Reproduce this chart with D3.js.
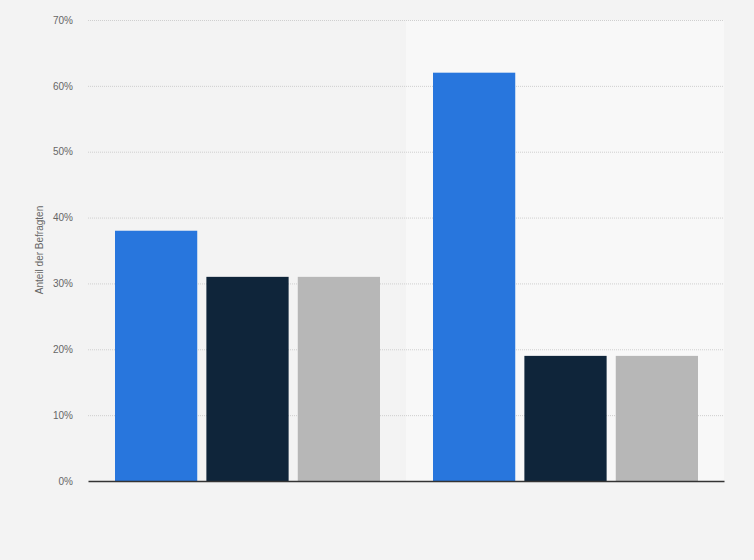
<!DOCTYPE html>
<html>
<head>
<meta charset="utf-8">
<script src="https://cdn.jsdelivr.net/npm/d3@7"></script>
<style>
  body { margin: 0; background: #f3f3f3; }
  .tick text { font-family: "Liberation Sans", Arial, sans-serif; font-size: 10px; fill: #666; }
  .axisText { font-family: "Liberation Sans", Arial, sans-serif; font-size: 10px; fill: #666; }
</style>
</head>
<body>
<div id="chart"></div>
<script>
// Chart data
var categories = ["Gruppe 1", "Gruppe 2"];
var seriesNames = ["Antwort A", "Antwort B", "Antwort C"];
var seriesA = [38, 62];
var seriesB = [31, 19];
var seriesC = [31, 19];
var yTicks = [0, 10, 20, 30, 40, 50, 60, 70];

var colors = ["#2876dd", "#0f253a", "#b7b7b7"];

var svgWidth = 754;
var svgHeight = 560;

var margin = { top: 20, right: 30, bottom: 79, left: 88 };
var width = svgWidth - margin.left - margin.right;
var height = svgHeight - margin.top - margin.bottom;

var svg = d3.select("#chart")
  .append("svg")
  .attr("width", svgWidth)
  .attr("height", svgHeight);

svg.append("rect")
  .attr("width", svgWidth)
  .attr("height", svgHeight)
  .attr("fill", "#f3f3f3");

var chartGroup = svg.append("g")
  .attr("transform", `translate(${margin.left}, ${margin.top})`);

// build rows for each category
var data = categories.map((c, i) => ({
  category: c,
  values: [seriesA[i], seriesB[i], seriesC[i]]
}));

var x0 = d3.scaleBand()
  .domain(categories)
  .range([0, width])
  .paddingInner(0)
  .paddingOuter(0);

var x1 = d3.scaleBand()
  .domain(seriesNames)
  .range([27, x0.bandwidth() - 26])
  .paddingInner(0.1);

var y = d3.scaleLinear()
  .domain([0, 70])
  .range([height, 0]);

// lighter band behind the second group
chartGroup.append("rect")
  .attr("x", x0(categories[1]))
  .attr("y", 0)
  .attr("width", x0.bandwidth())
  .attr("height", height)
  .attr("fill", "#f8f8f8");

// gridlines + tick labels
var leftAxis = d3.axisLeft(y)
  .tickValues(yTicks)
  .tickSize(-width)
  .tickPadding(15)
  .tickFormat(d => d + "%");

var yAxisG = chartGroup.append("g").call(leftAxis);
yAxisG.select(".domain").remove();
yAxisG.selectAll(".tick line")
  .attr("stroke", "#cfcfcf")
  .attr("stroke-dasharray", "1,1");
yAxisG.selectAll(".tick").filter(d => d === 0).select("line").remove();

// bars
var groups = chartGroup.selectAll(".group")
  .data(data)
  .enter()
  .append("g")
  .attr("transform", d => `translate(${x0(d.category)}, 0)`);

groups.selectAll("rect")
  .data(d => d.values.map((v, i) => ({ key: seriesNames[i], value: v, idx: i })))
  .enter()
  .append("rect")
  .attr("x", d => x1(d.key))
  .attr("y", d => y(d.value))
  .attr("width", x1.bandwidth())
  .attr("height", d => height - y(d.value))
  .attr("fill", d => colors[d.idx]);

// baseline
var bottomAxis = d3.axisBottom(x0).tickSize(0).tickFormat("");
var xAxisG = chartGroup.append("g")
  .attr("transform", `translate(0, ${height})`)
  .call(bottomAxis);
xAxisG.select(".domain")
  .attr("stroke", "#333")
  .attr("stroke-width", 1.3);

// y axis title
chartGroup.append("text")
  .attr("class", "axisText")
  .attr("transform", "rotate(-90)")
  .attr("x", -230)
  .attr("y", -45)
  .attr("text-anchor", "middle")
  .text("Anteil der Befragten");
</script>
</body>
</html>
